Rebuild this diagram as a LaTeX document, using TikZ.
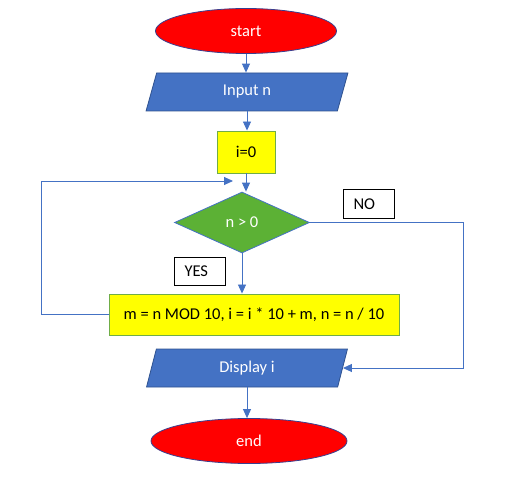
\documentclass[tikz,border=0pt]{standalone}
\usepackage{fontspec}
\setmainfont{Carlito}
\usepackage{tikz}
\usetikzlibrary{shapes.geometric, arrows.meta, positioning}
\definecolor{termred}{HTML}{FF0000}
\definecolor{termline}{HTML}{3A3F8F}
\definecolor{iofill}{HTML}{4472C4}
\definecolor{ioline}{HTML}{2F528F}
\definecolor{procyellow}{HTML}{FFFF00}
\definecolor{procline}{HTML}{70AD47}
\definecolor{decgreen}{HTML}{5CB135}
\definecolor{flowblue}{HTML}{4472C4}
\newcommand{\flowfont}{\fontsize{16.5}{20}\selectfont}

\begin{document}
\begin{tikzpicture}[x=1pt, y=-1pt,
    term/.style={ellipse, draw=termline, line width=0.8pt, fill=termred, text=white, minimum height=45pt, inner sep=0pt, font=\flowfont},
    io/.style={trapezium, trapezium left angle=78, trapezium right angle=102, trapezium stretches=true, draw=ioline, line width=0.8pt, fill=iofill, text=white, minimum width=202pt, minimum height=38pt, inner sep=0pt, font=\flowfont},
    proc/.style={rectangle, draw=procline, line width=0.9pt, fill=procyellow, minimum height=41pt, inner sep=0pt, font=\flowfont},
    decision/.style={diamond, aspect=2.2, draw=flowblue, line width=0.8pt, fill=decgreen, text=white, minimum width=135pt, minimum height=61pt, inner sep=0pt, font=\flowfont},
    tag/.style={rectangle, draw=black, line width=0.8pt, fill=white, text width=31pt, inner xsep=10pt, minimum height=29pt, align=left, font=\flowfont},
    arrow/.style={-{Triangle[length=9pt, width=8pt]}, draw=flowblue, line width=0.9pt}
]
\useasboundingbox (0,0) rectangle (530,494);

\node[term, minimum width=181pt] (start) at (246,31) {start};
\node[io] (input) at (247,92) {Input n};
\node[proc, minimum width=58pt, minimum height=42pt] (init) at (246,152) {i=0};
\node[decision] (test) at (242,222.5) {n > 0};
\node[tag] (no) at (369,204) {NO};
\node[tag, minimum height=28pt] (yes) at (200,271) {YES};
\node[proc, minimum width=290pt] (body) at (254,314.5) {m = n MOD 10, i = i * 10 + m, n = n / 10};
\node[io] (show) at (247,368) {Display i};
\node[term, minimum width=196pt] (stop) at (249,441) {end};

\coordinate (loopin) at (233,181);

\draw[arrow] (start.south) -- (start.south |- input.north);
\draw[arrow] (input.south) -- (input.south |- init.north);
\draw[arrow] (init.south) -- (init.south |- test.north);
\draw[arrow] (test.south) -- (test.south |- body.north);
\draw[arrow] (body.west) -- ++(-67,0) |- (loopin);
\draw[arrow] (test.east) -- ++(154,0) |- (show.east);
\draw[arrow] (show.south) -- (show.south |- stop.north);

\end{tikzpicture}
\end{document}
